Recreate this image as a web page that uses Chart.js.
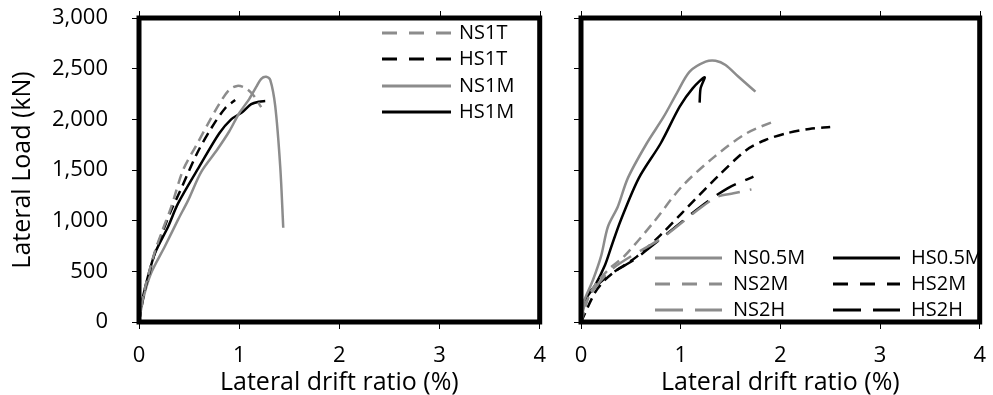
<!DOCTYPE html>
<html>
<head>
<meta charset="utf-8">
<script src="https://cdn.jsdelivr.net/npm/chart.js@4"></script>
<style>
  html, body { margin: 0; padding: 0; background: #fff; overflow: hidden; }
  #wrap { position: relative; width: 993px; height: 395px; }
  canvas { position: absolute; top: 0; }
</style>
</head>
<body>
<div id="wrap">
  <canvas id="left" width="560" height="395" style="left:0"></canvas>
  <canvas id="right" width="440" height="395" style="left:560px"></canvas>
</div>
<script>
var FONT = '"Open Sans", "Noto Sans", sans-serif';
var GRAY = "#8c8c8c";

var yTicks = [0, 500, 1000, 1500, 2000, 2500, 3000];
var xTicks = [0, 1, 2, 3, 4];

// left panel: [drift %, load kN]
var NS1T = [[0,0],[0.05,290],[0.1,490],[0.16,700],[0.24,920],[0.32,1130],[0.44,1500],[0.57,1740],[0.68,1940],[0.8,2150],[0.9,2290],[0.98,2330],[1.06,2310],[1.14,2240],[1.22,2120]];
var HS1T = [[0,0],[0.05,280],[0.1,470],[0.16,690],[0.24,900],[0.32,1100],[0.4,1270],[0.58,1665],[0.72,1910],[0.86,2110],[0.96,2190]];
var NS1M = [[0,0],[0.04,220],[0.12,480],[0.26,750],[0.39,1010],[0.49,1200],[0.62,1480],[0.78,1700],[0.9,1880],[1.0,2060],[1.1,2200],[1.17,2320],[1.22,2400],[1.27,2420],[1.31,2390],[1.36,2130],[1.41,1530],[1.44,930]];
var HS1M = [[0,0],[0.01,90],[0.04,250],[0.09,450],[0.16,680],[0.29,940],[0.39,1170],[0.6,1530],[0.8,1860],[0.92,2000],[1.03,2070],[1.12,2150],[1.2,2175],[1.26,2180]];

// right panel
var NS05M = [[0,0],[0.01,150],[0.12,415],[0.2,645],[0.27,940],[0.37,1140],[0.47,1420],[0.66,1764],[0.83,2026],[0.96,2257],[1.09,2471],[1.25,2569],[1.35,2579],[1.45,2537],[1.58,2420],[1.75,2273]];
var HS05M = [[0,0],[0.02,180],[0.14,360],[0.24,560],[0.31,760],[0.4,1007],[0.58,1420],[0.8,1764],[0.99,2125],[1.12,2306],[1.24,2415],[1.2,2306],[1.19,2165]];
var NS2M = [[0,0],[0.1,300],[0.27,513],[0.43,645],[0.72,975],[1.01,1335],[1.34,1632],[1.66,1862],[1.96,1990]];
var HS2M = [[0,0],[0.14,290],[0.24,415],[0.36,513],[0.56,645],[0.8,860],[1.01,1073],[1.37,1434],[1.66,1698],[1.85,1796],[2.06,1862],[2.29,1905],[2.5,1925]];
var NS2H = [[0,0],[0.05,200],[0.3,513],[0.83,842],[1.17,1105],[1.37,1237],[1.53,1270],[1.71,1309]];
var HS2H = [[0,0],[0.05,250],[0.22,415],[0.36,513],[0.53,612],[0.93,924],[1.2,1138],[1.47,1319],[1.73,1434]];

var SHORT = [10, 6];
var LONG = [22, 10];

function series(label, pts, color, dash) {
  return {
    label: label,
    data: pts.map(function (p) { return { x: p[0], y: p[1] }; }),
    borderColor: color,
    borderDash: dash,
    borderWidth: 2.5,
    pointRadius: 0,
    tension: 0.3,
    fill: false
  };
}

function legendDash(d) {
  if (d === SHORT) return [15, 12];
  if (d === LONG) return [28, 12];
  return [];
}

// frame, top tick marks and the in-plot legend
var frameLegend = {
  id: "frameLegend",
  afterDatasetsDraw: function (chart, args, opts) {
    var ctx = chart.ctx, a = chart.chartArea;
    ctx.save();
    ctx.strokeStyle = "#000";
    ctx.lineWidth = 1;
    xTicks.forEach(function (v) {
      var px = Math.round(chart.scales.x.getPixelForValue(v)) + 0.5;
      ctx.beginPath();
      ctx.moveTo(px, a.top - 7);
      ctx.lineTo(px, a.top);
      ctx.stroke();
    });
    ctx.lineWidth = 5;
    ctx.strokeRect(a.left, a.top, a.right - a.left, a.bottom - a.top);
    ctx.font = "20px " + FONT;
    ctx.textBaseline = "middle";
    opts.items.forEach(function (it) {
      var ds = chart.data.datasets[it.i];
      ctx.setLineDash(legendDash(ds.borderDash));
      ctx.strokeStyle = ds.borderColor;
      ctx.lineWidth = 3;
      ctx.beginPath();
      ctx.moveTo(it.x, it.y);
      ctx.lineTo(it.x + opts.len, it.y);
      ctx.stroke();
      ctx.setLineDash([]);
      ctx.fillStyle = "#000";
      ctx.fillText(ds.label, it.x + opts.len + opts.gap, it.y);
    });
    ctx.restore();
  }
};

function makeOptions(yWidth, showY, padRight, legend) {
  var tickGrid = { drawOnChartArea: false, drawTicks: true, tickLength: 7, color: "#000", lineWidth: 1 };
  return {
    responsive: false,
    animation: false,
    layout: { padding: { left: 0, right: padRight, top: 18, bottom: 0 } },
    plugins: { legend: { display: false }, tooltip: { enabled: false }, frameLegend: legend },
    scales: {
      x: {
        type: "linear", min: 0, max: 4,
        afterBuildTicks: function (s) { s.ticks = xTicks.map(function (v) { return { value: v }; }); },
        grid: tickGrid, border: { display: false },
        ticks: { color: "#000", font: { family: FONT, size: 22 }, padding: 14, maxRotation: 0 },
        title: { display: true, text: "Lateral drift ratio (%)", color: "#000", font: { family: FONT, size: 25, lineHeight: 1 }, padding: { top: 0, bottom: 0 } },
        afterFit: function (s) { s.height = 73; }
      },
      y: {
        min: 0, max: 3000,
        afterBuildTicks: function (s) { s.ticks = yTicks.map(function (v) { return { value: v }; }); },
        grid: tickGrid, border: { display: false },
        ticks: {
          color: "#000", font: { family: FONT, size: 22 }, padding: 24,
          callback: function (v) { return showY ? v.toLocaleString("en-US") : ""; }
        },
        title: { display: showY, text: "Lateral Load (kN)", color: "#000", font: { family: FONT, size: 25, lineHeight: 1 }, padding: { top: 10, bottom: 0 } },
        afterFit: function (s) { s.width = yWidth; s.paddingTop = 0; s.paddingBottom = 0; }
      }
    }
  };
}

new Chart(document.getElementById("left"), {
  type: "line",
  data: {
    datasets: [
      series("NS1T", NS1T, GRAY, SHORT),
      series("HS1T", HS1T, "#000", SHORT),
      series("NS1M", NS1M, GRAY, []),
      series("HS1M", HS1M, "#000", [])
    ]
  },
  options: makeOptions(139, true, 17, {
    len: 69, gap: 8,
    items: [
      { i: 0, x: 382, y: 33 },
      { i: 1, x: 382, y: 59 },
      { i: 2, x: 382, y: 86 },
      { i: 3, x: 382, y: 112 }
    ]
  }),
  plugins: [frameLegend]
});

new Chart(document.getElementById("right"), {
  type: "line",
  data: {
    datasets: [
      series("NS0.5M", NS05M, GRAY, []),
      series("NS2M", NS2M, GRAY, SHORT),
      series("NS2H", NS2H, GRAY, LONG),
      series("HS0.5M", HS05M, "#000", []),
      series("HS2M", HS2M, "#000", SHORT),
      series("HS2H", HS2H, "#000", LONG)
    ]
  },
  options: makeOptions(21, false, 12, {
    len: 67, gap: 11,
    items: [
      { i: 0, x: 95, y: 258 },
      { i: 1, x: 95, y: 284 },
      { i: 2, x: 95, y: 310 },
      { i: 3, x: 273, y: 258 },
      { i: 4, x: 273, y: 284 },
      { i: 5, x: 273, y: 310 }
    ]
  }),
  plugins: [frameLegend]
});
</script>
</body>
</html>
